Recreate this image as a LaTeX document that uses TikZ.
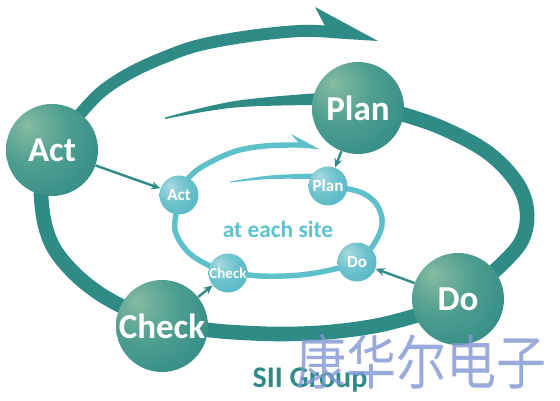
\documentclass[tikz,border=0pt]{standalone}
\usepackage{fontspec}
\setmainfont{Carlito}
\newfontfamily\cjk{Noto Sans CJK SC}
\usetikzlibrary{arrows.meta}
\definecolor{ring}{HTML}{2F8B86}
\definecolor{cyanring}{HTML}{5DC0CB}
\definecolor{sitetext}{HTML}{5DC3CE}
\definecolor{bigHL}{HTML}{86BBA3}
\definecolor{bigMid}{HTML}{4C9D8F}
\definecolor{bigEdge}{HTML}{2D8782}
\definecolor{smHL}{HTML}{A8DADF}
\definecolor{smMid}{HTML}{6CC2CC}
\definecolor{smEdge}{HTML}{4DB3C1}
\definecolor{wm}{HTML}{8197D2}
\pgfdeclareradialshading{bigball}{\pgfpoint{-14bp}{14bp}}{color(0bp)=(bigHL);color(20bp)=(bigMid);color(45bp)=(bigEdge);color(80bp)=(bigEdge)}
\pgfdeclareradialshading{smallball}{\pgfpoint{-12bp}{12bp}}{color(0bp)=(smHL);color(20bp)=(smMid);color(45bp)=(smEdge);color(80bp)=(smEdge)}
\pgfdeclarelayer{bg}
\pgfsetlayers{bg,main}
\tikzset{
  bigball/.style={circle, minimum size=46pt, inner sep=0pt, shading=bigball, text=white, font=\bfseries\fontsize{17.5}{20}\selectfont},
  smallball/.style={circle, minimum size=19.5pt, inner sep=0pt, shading=smallball, text=white, font=\bfseries\fontsize{8.5}{10}\selectfont},
  conn/.style={draw=ring, line width=1.2pt, -{Stealth[length=4.5pt,width=4pt]}},
  bigring/.style={draw=ring, line width=7.3pt},
  innerring/.style={draw=cyanring, line width=2.7pt}
}
\begin{document}
\begin{tikzpicture}[x=0.5pt,y=-0.5pt]
\useasboundingbox (0,0) rectangle (560,400);

% big nodes
\node[bigball] (bAct) at (52,150) {Act};
\node[bigball] (bPlan) at (358,108) {Plan};
\node[bigball] (bDo) at (458,299) {Do};
\node[bigball] (bCheck) at (162,326) {Check};
% small nodes
\node[smallball] (sAct) at (179,195) {Act};
\node[smallball] (sPlan) at (328,186) {Plan};
\node[smallball] (sDo) at (357,262) {Do};
\node[smallball, font=\bfseries\fontsize{7.5}{9}\selectfont] (sCheck) at (228,273) {Check};

\begin{pgfonlayer}{bg}
\fill[white] (0,0) rectangle (560,400);
% outer ring
\draw[bigring] plot[smooth, tension=0.6] coordinates {(395,112) (440,127) (487,152) (517,183) (527,212) (522,240) (503,263) (480,283)};
\draw[bigring] plot[smooth, tension=0.6] coordinates {(425,313) (380,325) (330,332) (280,334) (230,332) (200,329)};
\draw[bigring] plot[smooth, tension=0.6] coordinates {(125,308) (100,294) (75,274) (55,250) (45,225) (41,195) (42,175)};
\draw[ring, line width=6pt] plot[smooth, tension=0.6] coordinates {(75,120) (100,93) (130,73) (165,57) (200,45) (250,36) (300,31) (332,32)};
\fill[ring] (325,26) -- (315,7) -- (378,41) -- (330,38) -- cycle;
\fill[ring] plot[smooth, tension=0.6] coordinates {(165,117.5) (235,101) (320,93)} -- plot[smooth, tension=0.6] coordinates {(320,105) (235,107.5) (165,119)} -- cycle;
% inner ring
\draw[innerring] plot[smooth, tension=0.6] coordinates {(185,182) (200,168) (233,152) (265,146) (300,145)};
\fill[cyanring] (298,142.2) -- (291,134) -- (319,149) -- (300,147.8) -- cycle;
\draw[innerring] plot[smooth, tension=0.6] coordinates {(178,205) (175,230) (188,252) (210,266) (228,272)};
\draw[innerring] plot[smooth, tension=0.6] coordinates {(228,272) (260,276) (300,275) (335,269) (357,262)};
\draw[innerring] plot[smooth, tension=0.6] coordinates {(357,262) (372,247) (382,225) (377,205) (360,192) (330,186)};
\fill[cyanring] plot[smooth, tension=0.6] coordinates {(230,181.5) (270,175.5) (315,173.5)} -- plot[smooth, tension=0.6] coordinates {(315,179) (270,179) (230,182.5)} -- cycle;
\end{pgfonlayer}

% connectors
\draw[conn] (bAct) -- (sAct);
\draw[conn] (bPlan) -- (sPlan);
\draw[conn] (bDo) -- (sDo);
\draw[conn] (bCheck) -- (sCheck);

% texts
\node[text=sitetext, font=\bfseries\fontsize{11.7}{14}\selectfont] (site) at (278,229) {at each site};
\node[text=ring, font=\bfseries\fontsize{15}{18}\selectfont, anchor=base] (sii) at (310,387) {SII Group};
\node[text=wm, opacity=0.8, font=\cjk\fontsize{25}{25}\selectfont, inner sep=0pt] (wmark) at (421,362) {\scalebox{1}[1.18]{康华尔电子}};
\end{tikzpicture}
\end{document}
